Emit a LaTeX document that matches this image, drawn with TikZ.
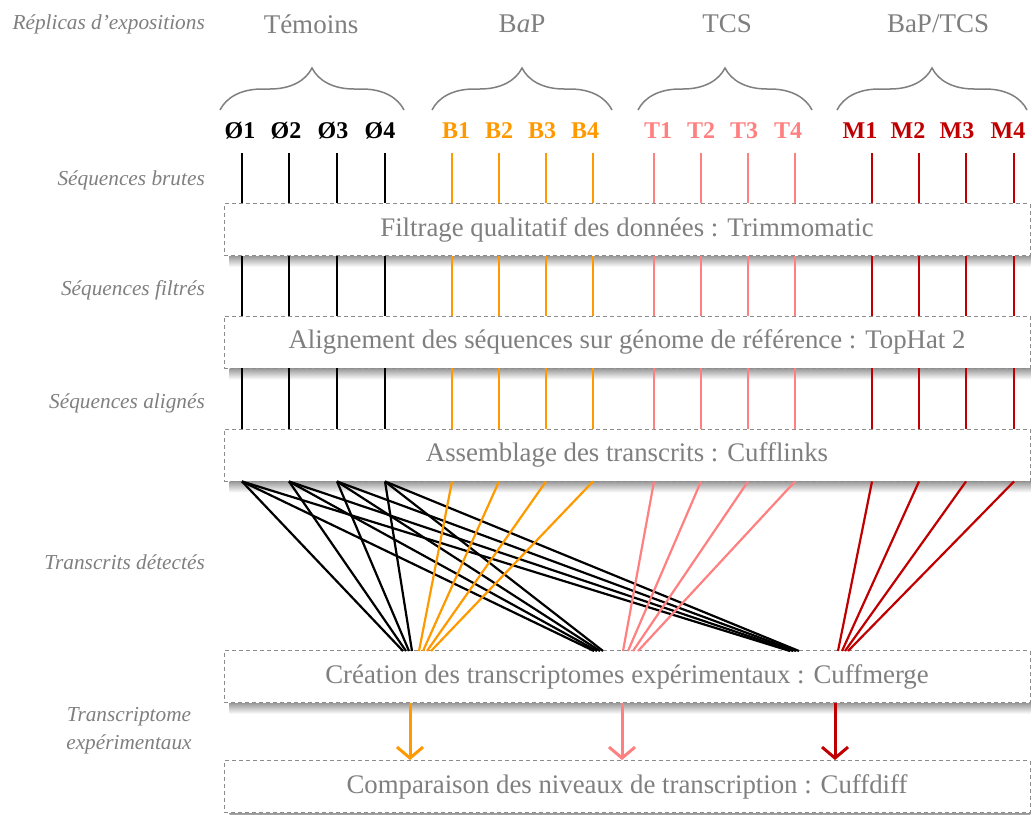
\documentclass[tikz,border=0pt]{standalone}
\usepackage{fontspec}
\setmainfont{Liberation Serif}
\usetikzlibrary{arrows.meta,decorations.pathreplacing}
\pgfdeclarelayer{background}
\pgfsetlayers{background,main}
\definecolor{txtgray}{HTML}{7F7F7F}
\definecolor{bordergray}{HTML}{8C8C8C}
\definecolor{corange}{HTML}{FF9900}
\definecolor{cpink}{HTML}{FF8080}
\definecolor{cred}{HTML}{C00000}
\begin{document}
\begin{tikzpicture}[x=1pt,y=-1pt,
  stepbox/.style={draw=bordergray, dash pattern=on 4pt off 3pt, line width=0.9pt, fill=white,
    minimum width=806pt, minimum height=52pt, inner sep=0pt, text=txtgray,
    font=\fontsize{26.8}{28}\selectfont},
  rowlabel/.style={anchor=east, text=txtgray, font=\fontsize{21.3}{28}\selectfont\itshape, inner sep=0pt},
  grouplabel/.style={text=txtgray, font=\fontsize{27}{28}\selectfont, inner sep=0pt},
  rep/.style={font=\fontsize{24}{26}\selectfont\bfseries, inner sep=0pt},
  grpbrace/.style={draw=txtgray, line width=1.5pt, decorate, decoration={brace, amplitude=42pt}},
  link/.style={line width=2.2pt},
  bigarrow/.style={line width=3pt, -{Straight Barb[length=11pt, width=26pt]}},
  boxshadow/.style={top color=black!40, bottom color=white, draw=none},
]
\useasboundingbox (0,0) rectangle (1032,814);

% row labels
\node[rowlabel] (r0) at (205,24) {Réplicas d’expositions};
\node[rowlabel] (r1) at (205,180) {Séquences brutes};
\node[rowlabel] (r2) at (205,290) {Séquences filtrés};
\node[rowlabel] (r3) at (205,403) {Séquences alignés};
\node[rowlabel] (r4) at (205,562) {Transcrits détectés};
\node[rowlabel, anchor=center, align=center] (r5) at (129,731) {Transcriptome\\expérimentaux};

% group labels
\node[grouplabel] (g1) at (311,24) {Témoins};
\node[grouplabel] (g2) at (522,24) {B\textit{a}P};
\node[grouplabel] (g3) at (727,24) {TCS};
\node[grouplabel] (g4) at (938,24) {BaP/TCS};

% braces
\draw[grpbrace] (220,110) -- (404,110);
\draw[grpbrace] (432,110) -- (612,110);
\draw[grpbrace] (638,110) -- (812,110);
\draw[grpbrace] (837,110) -- (1027,110);

% boxes
\node[stepbox] (f1) at (627,229.5) {Filtrage qualitatif des données : Trimmomatic};
\node[stepbox] (f2) at (627,342) {Alignement des séquences sur génome de référence : TopHat 2};
\node[stepbox] (f3) at (627,455) {Assemblage des transcrits : Cufflinks};
\node[stepbox] (f4) at (627,676.5) {Création des transcriptomes expérimentaux : Cuffmerge};
\node[stepbox] (f5) at (627,786.5) {Comparaison des niveaux de transcription : Cuffdiff};

\begin{pgfonlayer}{background}
\foreach \b in {f1,f2,f3,f4,f5}{
  \shade[boxshadow] ([xshift=6pt]\b.south west) rectangle ([yshift=-11pt]\b.south east);
}
\end{pgfonlayer}

% replicate labels and columns
\foreach \n/\x/\lx/\lab/\col in {
  o1/242/240/Ø1/black, o2/289/286/Ø2/black, o3/337/333/Ø3/black, o4/385/380/Ø4/black,
  b1/452/456/B1/corange, b2/499/499/B2/corange, b3/546/542/B3/corange, b4/593/585/B4/corange,
  t1/654/658/T1/cpink, t2/701/701/T2/cpink, t3/748/744/T3/cpink, t4/795/788/T4/cpink,
  m1/872/860/M1/cred, m2/919/908/M2/cred, m3/966/957/M3/cred, m4/1014/1008/M4/cred}{
  \node[rep, text=\col] (l\n) at (\lx,131) {\lab};
  \coordinate (c\n) at (\x,153);
  \draw[link, \col] (c\n) -- (c\n |- f1.north);
  \draw[link, \col] (c\n |- f1.south) -- (c\n |- f2.north);
  \draw[link, \col] (c\n |- f2.south) -- (c\n |- f3.north);
}

% fan from Cufflinks to Cuffmerge
\foreach \n/\a/\b/\c in {o1/403/594/790, o2/406/597/793, o3/409/600/796, o4/412/603/799}{
  \coordinate (ka\n) at (\a,651);
  \coordinate (kb\n) at (\b,651);
  \coordinate (kc\n) at (\c,651);
  \draw[link, black] (c\n |- f3.south) -- (ka\n);
  \draw[link, black] (c\n |- f3.south) -- (kb\n);
  \draw[link, black] (c\n |- f3.south) -- (kc\n);
}
\foreach \n/\a/\col in {b1/419/corange, b2/423/corange, b3/427/corange, b4/431/corange,
  t1/623/cpink, t2/628/cpink, t3/633/cpink, t4/638/cpink,
  m1/838/cred, m2/842/cred, m3/845/cred, m4/848/cred}{
  \coordinate (k\n) at (\a,651);
  \draw[link, \col] (c\n |- f3.south) -- (k\n);
}

% arrows to Cuffdiff
\coordinate (ao) at (410,705);
\coordinate (ap) at (622,705);
\coordinate (ar) at (835,705);
\draw[bigarrow, corange] (ao |- f4.south) -- (ao |- f5.north);
\draw[bigarrow, cpink] (ap |- f4.south) -- (ap |- f5.north);
\draw[bigarrow, cred] (ar |- f4.south) -- (ar |- f5.north);
\end{tikzpicture}
\end{document}
